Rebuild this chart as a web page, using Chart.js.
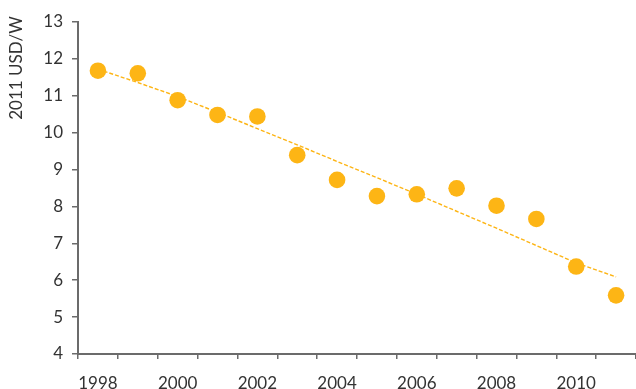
<!DOCTYPE html>
<html>
<head>
<meta charset="utf-8">
<script src="https://cdn.jsdelivr.net/npm/chart.js@4"></script>
<style>
  html, body { margin: 0; padding: 0; background: #fff; overflow: hidden; }
  canvas { display: block; }
</style>
</head>
<body>
<canvas id="c" width="636" height="389"></canvas>
<script>
const years = ['1998','1999','2000','2001','2002','2003','2004','2005','2006','2007','2008','2009','2010','2011'];
const priceUSDperW = [11.68, 11.61, 10.88, 10.48, 10.44, 9.39, 8.72, 8.28, 8.33, 8.49, 8.02, 7.66, 6.37, 5.59];
const trendUSDperW = [11.72, 11.36, 10.98, 10.55, 10.11, 9.67, 9.22, 8.78, 8.33, 7.87, 7.41, 6.94, 6.47, 6.09];
const yTitle = '2011 USD/W';

const amber = '#FDB515';
const axisGray = '#6b6b6b';
const textGray = '#333333';
const fontFam = 'Lato, "Open Sans", sans-serif';

const yTitlePlugin = {
  id: 'yTitle',
  afterDraw(chart) {
    const ctx = chart.ctx;
    ctx.save();
    ctx.translate(17, 68);
    ctx.rotate(-Math.PI / 2);
    ctx.font = '17px ' + fontFam;
    ctx.fillStyle = textGray;
    ctx.textAlign = 'center';
    ctx.textBaseline = 'middle';
    ctx.fillText(yTitle, 0, 0);
    ctx.restore();
  }
};

new Chart(document.getElementById('c'), {
  type: 'line',
  data: {
    labels: years,
    datasets: [
      {
        label: 'Price',
        data: priceUSDperW,
        showLine: false,
        pointRadius: 8.3,
        pointHoverRadius: 8.3,
        pointBackgroundColor: amber,
        pointBorderWidth: 0,
        borderColor: amber,
        clip: false
      },
      {
        label: 'Trend',
        data: trendUSDperW,
        borderColor: amber,
        borderWidth: 1.4,
        borderDash: [4, 2],
        pointRadius: 0,
        fill: false,
        tension: 0
      }
    ]
  },
  plugins: [yTitlePlugin],
  options: {
    responsive: false,
    animation: false,
    devicePixelRatio: 1,
    layout: { autoPadding: false, padding: { top: 22, right: 0, left: 0, bottom: 0 } },
    plugins: {
      legend: { display: false },
      tooltip: { enabled: false }
    },
    scales: {
      x: {
        type: 'category',
        offset: true,
        afterFit(scale) { scale.height = 35; scale.paddingLeft = 0; scale.paddingRight = 0; },
        grid: {
          offset: true,
          drawOnChartArea: false,
          drawTicks: true,
          tickLength: 5,
          color: axisGray,
          lineWidth: 1.5
        },
        border: { display: true, color: axisGray, width: 2 },
        ticks: {
          autoSkip: false,
          maxRotation: 0,
          padding: 14,
          color: textGray,
          font: { family: fontFam, size: 17 },
          callback(v, i) { return i % 2 === 0 ? years[i] : ''; }
        }
      },
      y: {
        min: 4,
        max: 13,
        afterFit(scale) { scale.width = 78; },
        grid: {
          drawOnChartArea: false,
          drawTicks: true,
          tickLength: 6,
          color: axisGray,
          lineWidth: 1.5
        },
        border: { display: true, color: axisGray, width: 2 },
        ticks: {
          stepSize: 1,
          padding: 9,
          color: textGray,
          font: { family: fontFam, size: 17 }
        }
      }
    }
  }
});
</script>
</body>
</html>
